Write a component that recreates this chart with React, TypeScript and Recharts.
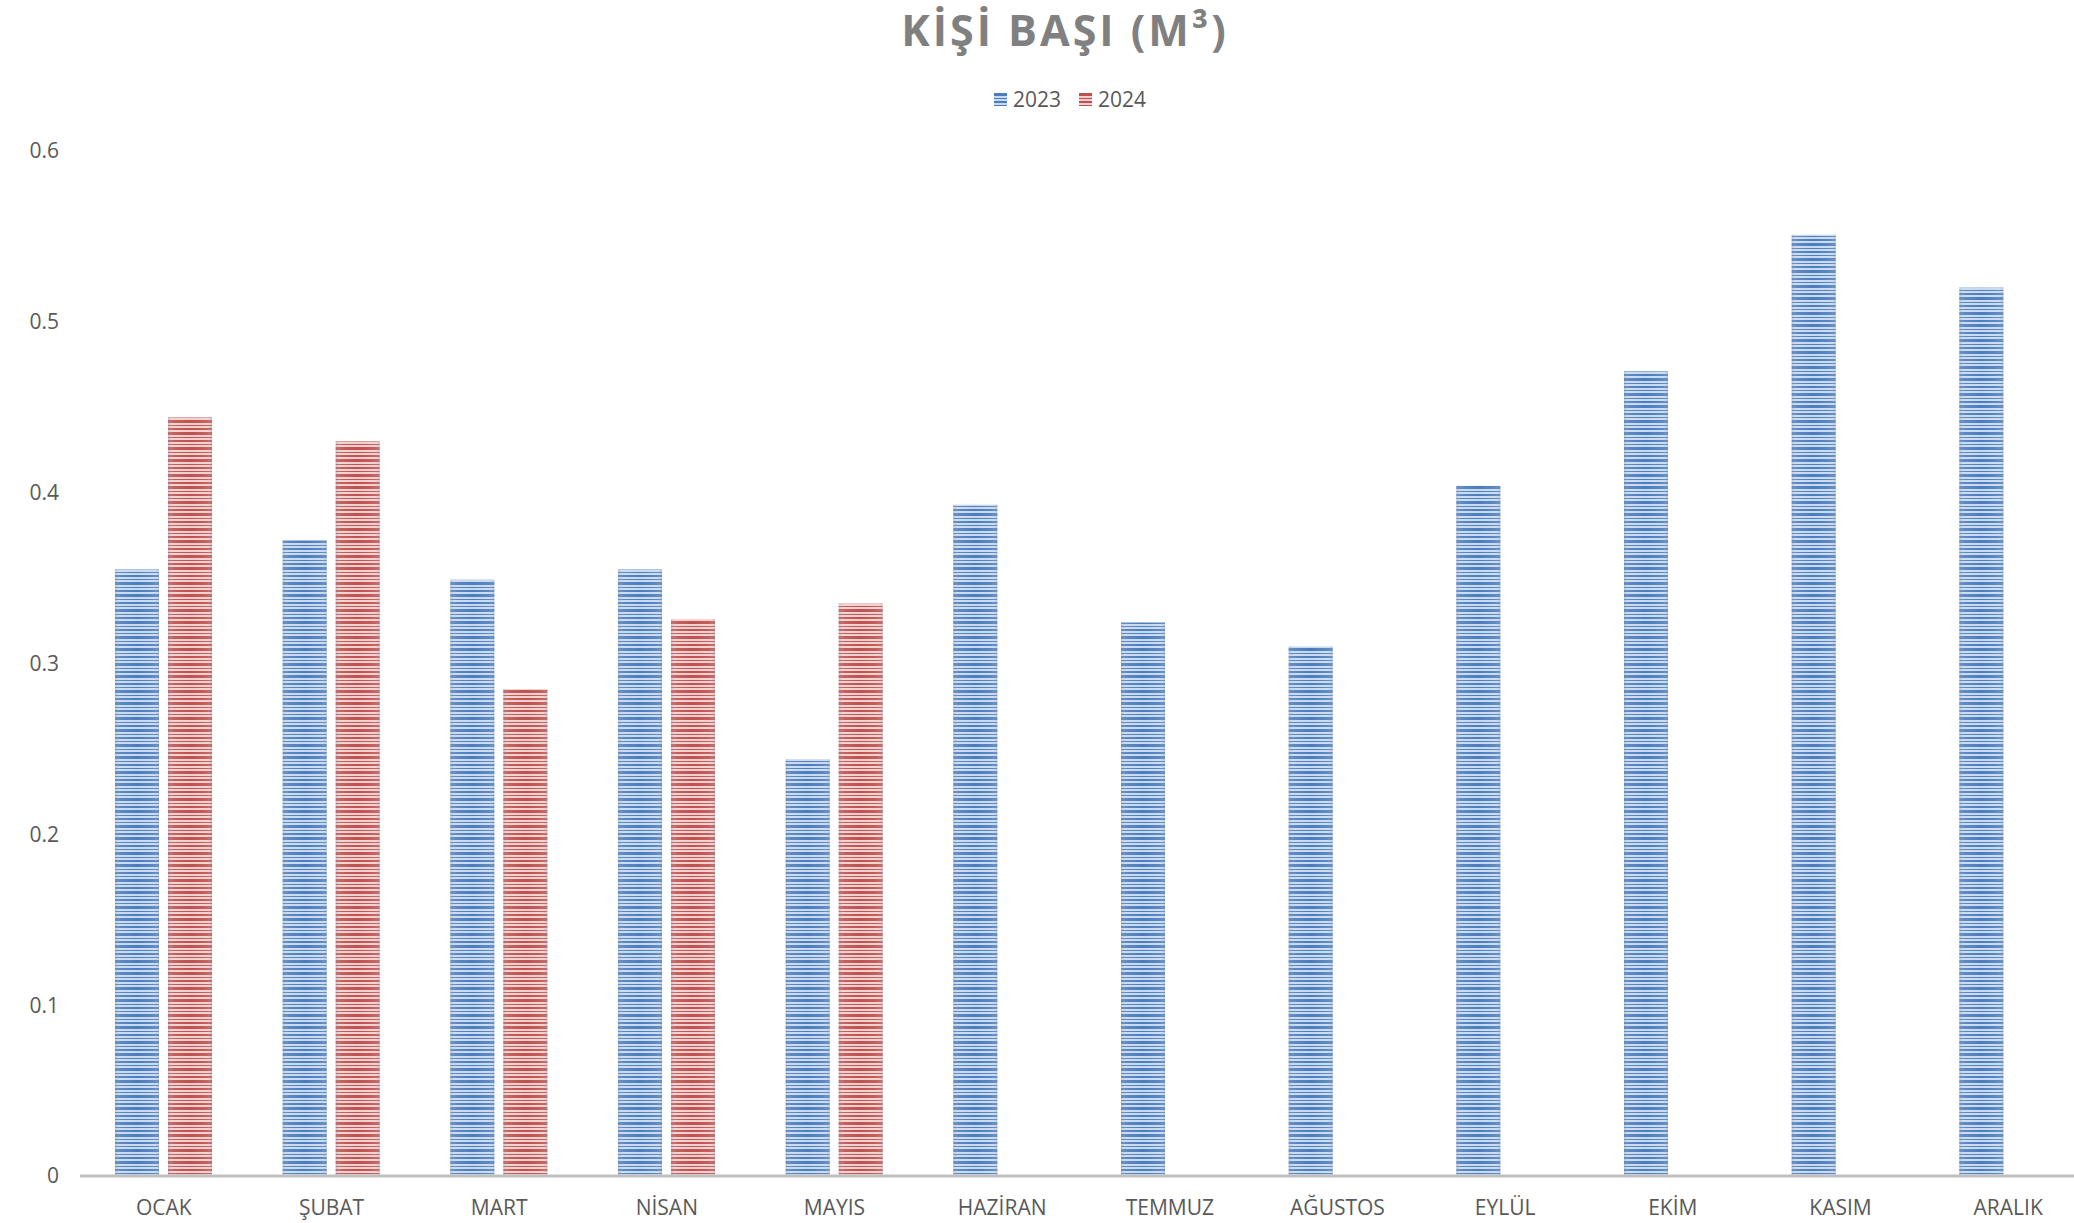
import React from 'react';
import { BarChart, Bar, XAxis, YAxis } from 'recharts';

const MONTHS = ['OCAK', 'ŞUBAT', 'MART', 'NİSAN', 'MAYIS', 'HAZİRAN', 'TEMMUZ', 'AĞUSTOS', 'EYLÜL', 'EKİM', 'KASIM', 'ARALIK'];
const Y2023 = [0.355, 0.372, 0.349, 0.355, 0.244, 0.393, 0.324, 0.31, 0.404, 0.471, 0.551, 0.52];
const Y2024 = [0.444, 0.43, 0.285, 0.326, 0.335, null, null, null, null, null, null, null];
const Y_TICKS = [0, 0.1, 0.2, 0.3, 0.4, 0.5, 0.6];
const SERIES = [
  { key: 'y2023', label: '2023', pattern: 'stripeBlue' },
  { key: 'y2024', label: '2024', pattern: 'stripeRed' },
];

const data = MONTHS.map((m, i) => ({ month: m, y2023: Y2023[i], y2024: Y2024[i] }));

const FONT = '"Open Sans", sans-serif';
const TEXT = '#595959';

const StripedBar = (props: any) => {
  const { x, y, width, height, patternId } = props;
  if (!height || height <= 0) return null;
  return (
    <g>
      <rect x={x} y={y} width={width} height={height} fill={`url(#${patternId})`} />
      <rect x={x} y={y} width={width} height={height} fill="url(#edgeShade)" />
    </g>
  );
};

// irregular horizontal stripes, like the original texture fill
const STRIPES = [
  [0, 3], [5, 1], [8, 2], [12, 1], [15, 3], [20, 1], [23, 2],
];

const stripes = (dark: string) =>
  STRIPES.map(([y, h]) => <rect key={y} x={0} y={y} width={10} height={h} fill={dark} />);

export default function App() {
  return (
    <div style={{ position: 'absolute', left: 0, top: 0, width: 2074, height: 1223, overflow: 'hidden', background: '#fff' }}>
      <div
        style={{
          position: 'absolute',
          top: 0,
          left: 0,
          width: 2130,
          textAlign: 'center',
          fontFamily: FONT,
          fontWeight: 700,
          fontSize: 43,
          letterSpacing: 3,
          color: '#808080',
          lineHeight: '60px',
        }}
      >
        KİŞİ BAŞI (M³)
      </div>
      <div
        style={{
          position: 'absolute',
          top: 85,
          left: 994,
          display: 'flex',
          gap: 18,
          fontFamily: FONT,
          fontSize: 21,
          color: TEXT,
          alignItems: 'center',
        }}
      >
        {SERIES.map((s) => (
          <div key={s.key} style={{ display: 'flex', alignItems: 'center', gap: 6 }}>
            <svg width={13} height={13}>
              <rect width={13} height={13} fill={`url(#${s.pattern})`} />
            </svg>
            <span>{s.label}</span>
          </div>
        ))}
      </div>
      <BarChart
        width={2092}
        height={1223}
        data={data}
        margin={{ top: 151, right: 0, left: 0, bottom: 0 }}
        barSize={44}
        barGap={9}
      >
        <defs>
          <pattern id="stripeBlue" patternUnits="userSpaceOnUse" width={10} height={27}>
            <rect width={10} height={27} fill="#c8d8ee" />
            {stripes('#4a7dbf')}
          </pattern>
          <pattern id="stripeRed" patternUnits="userSpaceOnUse" width={10} height={27}>
            <rect width={10} height={27} fill="#f0cfce" />
            {stripes('#c0504d')}
          </pattern>
          <linearGradient id="edgeShade" x1="0" y1="0" x2="1" y2="0">
            <stop offset="0%" stopColor="#9aa4b4" stopOpacity={0.35} />
            <stop offset="12%" stopColor="#ffffff" stopOpacity={0.1} />
            <stop offset="50%" stopColor="#ffffff" stopOpacity={0} />
            <stop offset="88%" stopColor="#ffffff" stopOpacity={0.1} />
            <stop offset="100%" stopColor="#9aa4b4" stopOpacity={0.35} />
          </linearGradient>
        </defs>
        <XAxis
          dataKey="month"
          axisLine={{ stroke: '#bfbfbf', strokeWidth: 3 }}
          tickLine={false}
          tickSize={0}
          tickMargin={24}
          height={47}
          interval={0}
          tick={{ fill: TEXT, fontSize: 21, fontFamily: FONT }}
        />
        <YAxis
          domain={[0, 0.6]}
          ticks={Y_TICKS}
          axisLine={false}
          tickLine={false}
          tickSize={0}
          tickMargin={21}
          width={80}
          tick={{ fill: TEXT, fontSize: 21, fontFamily: FONT }}
        />
        {SERIES.map((s) => (
          <Bar
            key={s.key}
            dataKey={s.key}
            name={s.label}
            isAnimationActive={false}
            shape={(p: any) => <StripedBar {...p} patternId={s.pattern} />}
          />
        ))}
      </BarChart>
    </div>
  );
}
